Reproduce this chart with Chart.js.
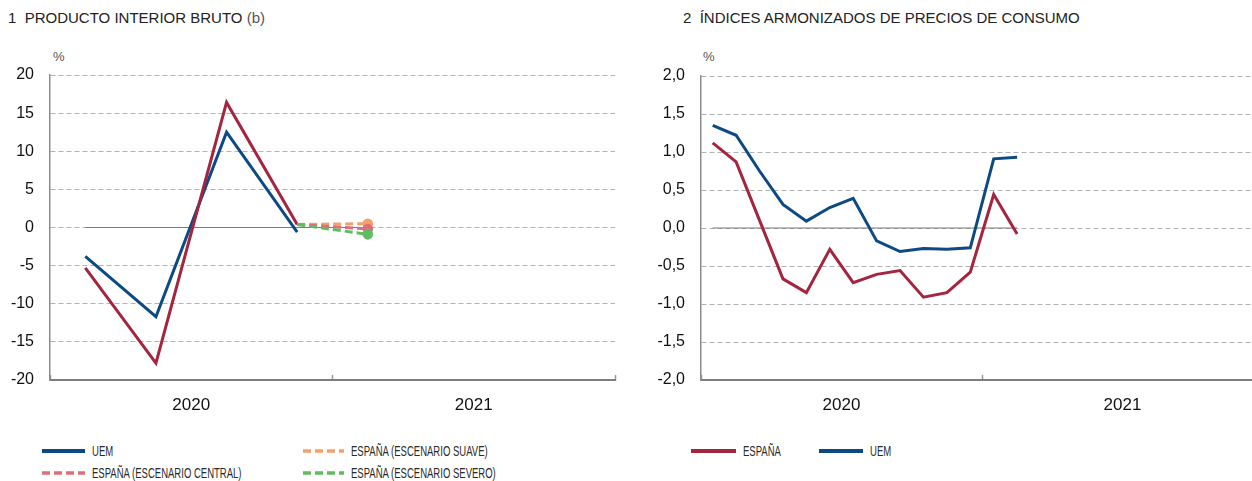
<!DOCTYPE html>
<html>
<head>
<meta charset="utf-8">
<script src="https://cdn.jsdelivr.net/npm/chart.js@4"></script>
<style>
  html, body { margin: 0; padding: 0; background: #fff; width: 1252px; height: 481px; overflow: hidden; position: relative; font-family: "Liberation Sans", Arial, sans-serif; }
  .title { position: absolute; top: 9px; font-size: 15px; color: #222; white-space: pre; line-height: 18px; }
  .title .light { color: #555; }
  .unit { position: absolute; top: 49px; font-size: 13px; color: #555; }
  .cw { position: absolute; top: 0; height: 430px; }
  .leg { position: absolute; height: 20px; }
  .leg svg { position: absolute; left: 0; top: 0; }
  .leg span { position: absolute; top: 1px; font-size: 14px; color: #2a2a2a; white-space: nowrap; transform: scaleX(0.68); transform-origin: left center; line-height: 18px; }
</style>
</head>
<body>
<div class="title" style="left:8px">1  PRODUCTO INTERIOR BRUTO <span class="light">(b)</span></div>
<div class="title" style="left:683px">2  ÍNDICES ARMONIZADOS DE PRECIOS DE CONSUMO</div>
<div class="unit" style="left:53px">%</div>
<div class="unit" style="left:703px">%</div>
<div class="cw" style="left:0; width:626px"><canvas id="c1"></canvas></div>
<div class="cw" style="left:640px; width:640px"><canvas id="c2"></canvas></div>
<div id="legends"></div>
<script>
// ---------- Data: chart 1 (PIB, quarterly % change) ----------
const quarters = ['I TR 2020','II TR 2020','III TR 2020','IV TR 2020','I TR 2021','II TR 2021','III TR 2021','IV TR 2021'];
const yearLabels1 = ['2020', '2021'];
const pibUEM = [-3.8, -11.7, 12.5, -0.6];
const pibEspana = [-5.3, -17.8, 16.4, 0.4];
const escCentral = [null, null, null, 0.4, -0.2];
const escSuave = [null, null, null, 0.4, 0.5];
const escSevero = [null, null, null, 0.4, -0.9];
const zero1 = [0, 0, 0, 0, 0];
const yTicks1 = [-20, -15, -10, -5, 0, 5, 10, 15, 20];

// ---------- Data: chart 2 (IAPC, monthly y/y %) ----------
const months = ['ene 20','feb 20','mar 20','abr 20','may 20','jun 20','jul 20','ago 20','sep 20','oct 20','nov 20','dic 20','ene 21','feb 21'];
const yearLabels2 = ['2020', '2021'];
const iapcEspana = [1.12, 0.87, 0.10, -0.67, -0.85, -0.28, -0.72, -0.61, -0.56, -0.91, -0.85, -0.58, 0.44, -0.08];
const iapcUEM = [1.35, 1.22, 0.75, 0.31, 0.09, 0.27, 0.39, -0.17, -0.31, -0.27, -0.28, -0.26, 0.91, 0.93];
const zero2 = months.map(() => 0);
const yTicks2 = [-2, -1.5, -1, -0.5, 0, 0.5, 1, 1.5, 2];

// ---------- Colors ----------
const C_UEM = '#0d4a84';
const C_ESP = '#a3253f';
const C_CEN = '#dc6f7d';
const C_SUA = '#f5a06b';
const C_SEV = '#5fbd60';

const toXY = arr => arr.map((v, i) => ({ x: i + 0.5, y: v }));
const FONT = "'Liberation Sans', Arial, sans-serif";

function lineDS(label, arr, color, opts) {
  return Object.assign({
    label, data: toXY(arr), borderColor: color, backgroundColor: color,
    borderWidth: 3, pointRadius: 0, tension: 0, fill: false,
    borderJoinStyle: 'miter', borderCapStyle: 'butt', spanGaps: false
  }, opts || {});
}
function endDot(arr) {
  const last = arr.length - 1;
  return ctx => ctx.dataIndex === last ? 3.8 : 0;
}

function makeOptions(xMax, yMin, yMax, step, yFmt, yearTicks, yWidth, padRight, padTop, yearTickVals) {
  return {
    responsive: true, maintainAspectRatio: false, animation: false,
    layout: { padding: { left: 0, right: padRight, top: padTop, bottom: 10 } },
    plugins: { legend: { display: false }, tooltip: { enabled: false } },
    scales: {
      x: {
        type: 'linear', min: 0, max: xMax,
        afterBuildTicks: s => { s.ticks = yearTickVals.map(v => ({ value: v })); },
        afterFit: s => { s.height = 40; },
        ticks: {
          autoSkip: false, maxRotation: 0, padding: 0,
          color: '#111', font: { family: FONT, size: 17, lineHeight: 60 / 17 },
          callback: v => yearTicks[v] || ''
        },
        grid: {
          drawOnChartArea: false, drawTicks: true, tickLength: -5, tickWidth: 1.5,
          color: ctx => (ctx.tick && yearTicks[ctx.tick.value] === undefined) ? '#9a9a9a' : 'rgba(0,0,0,0)'
        },
        border: { display: true, color: '#7d7d7d', width: 2 }
      },
      y: {
        min: yMin, max: yMax,
        afterFit: s => { s.width = yWidth; },
        ticks: { stepSize: step, padding: 16, color: '#111', font: { family: FONT, size: 16 }, callback: yFmt },
        grid: { color: '#b3b3b3', lineWidth: 1, drawTicks: false },
        border: { display: true, color: '#8c8c8c', width: 1.5, dash: [5, 3] }
      }
    }
  };
}

// Chart 1
const yt1 = {}; yearLabels1.forEach((l, i) => { yt1[2 + i * 4] = l; });
new Chart(document.getElementById('c1'), {
  type: 'line',
  data: {
    datasets: [
      lineDS('ESPAÑA (ESCENARIO SEVERO)', escSevero, C_SEV, { borderDash: [8, 4], pointRadius: endDot(escSevero), order: 1 }),
      lineDS('ESPAÑA (ESCENARIO CENTRAL)', escCentral, C_CEN, { borderDash: [8, 4], pointRadius: endDot(escCentral), order: 2 }),
      lineDS('ESPAÑA (ESCENARIO SUAVE)', escSuave, C_SUA, { borderDash: [8, 4], pointRadius: endDot(escSuave), order: 3 }),
      lineDS('ESPAÑA', pibEspana, C_ESP, { order: 4 }),
      lineDS('UEM', pibUEM, C_UEM, { order: 5 }),
      lineDS('cero', zero1, '#7a7a7a', { borderWidth: 1.2, order: 6 })
    ]
  },
  options: makeOptions(8, -20, 20, 5, v => String(v), yt1, 50, 11, 75, [0, 2, 4, 6, 8])
});

// Chart 2
const yt2 = {}; yearLabels2.forEach((l, i) => { yt2[6 + i * 12] = l; });
new Chart(document.getElementById('c2'), {
  type: 'line',
  data: {
    datasets: [
      lineDS('UEM', iapcUEM, C_UEM, { order: 1 }),
      lineDS('ESPAÑA', iapcEspana, C_ESP, { order: 2 }),
      lineDS('cero', zero2, '#7a7a7a', { borderWidth: 1.2, order: 3 })
    ]
  },
  options: makeOptions(24, -2, 2, 0.5, v => v.toFixed(1).replace('.', ','), yt2, 61, 17, 76, [0, 6, 12, 18, 24])
});

// ---------- HTML legends ----------
const legendItems = [
  { label: 'UEM', color: C_UEM, dash: false, x: 42, y: 451, w: 43 },
  { label: 'ESPAÑA (ESCENARIO CENTRAL)', color: C_CEN, dash: true, x: 42, y: 473, w: 43 },
  { label: 'ESPAÑA (ESCENARIO SUAVE)', color: C_SUA, dash: true, x: 303, y: 451, w: 41 },
  { label: 'ESPAÑA (ESCENARIO SEVERO)', color: C_SEV, dash: true, x: 303, y: 473, w: 41 },
  { label: 'ESPAÑA', color: C_ESP, dash: false, x: 691, y: 451, w: 45 },
  { label: 'UEM', color: C_UEM, dash: false, x: 819, y: 451, w: 44 }
];
const lg = document.getElementById('legends');
legendItems.forEach(it => {
  const d = document.createElement('div');
  d.className = 'leg';
  d.style.left = it.x + 'px';
  d.style.top = (it.y - 10) + 'px';
  const sw = it.dash ? 3.5 : 4;
  d.innerHTML = '<svg width="' + it.w + '" height="20"><line x1="0" y1="10" x2="' + it.w + '" y2="10" stroke="' + it.color +
    '" stroke-width="' + sw + '"' + (it.dash ? ' stroke-dasharray="8 4"' : '') + '/></svg>' +
    '<span style="left:' + (it.w + 7) + 'px">' + it.label + '</span>';
  lg.appendChild(d);
});
</script>
</body>
</html>
